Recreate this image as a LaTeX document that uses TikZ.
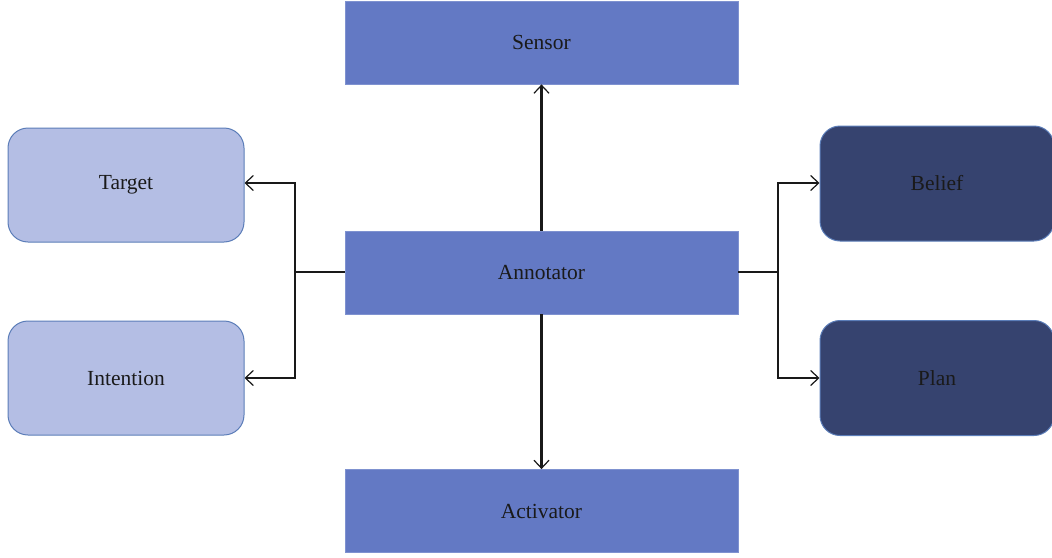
\documentclass[tikz,border=0pt]{standalone}
\usepackage{fontspec}
\setmainfont{Liberation Serif}
\usetikzlibrary{arrows.meta}
\definecolor{midblue}{HTML}{6379C4}
\definecolor{midedge}{HTML}{7F92D0}
\definecolor{lightblue}{HTML}{B4BEE4}
\definecolor{lightedge}{HTML}{5B7DB8}
\definecolor{darkblue}{HTML}{36436F}
\definecolor{darkedge}{HTML}{5B7DB8}
\definecolor{txt}{HTML}{1A1A1A}
\tikzset{
  x=1pt,y=-1pt,
  lbl/.style={font=\fontsize{21.5}{25}\selectfont, text=txt},
  sqbox/.style={lbl, draw=midedge, fill=midblue, line width=0.8pt, minimum width=393pt, minimum height=83pt, inner sep=0pt},
  lightbox/.style={lbl, draw=lightedge, fill=lightblue, line width=1pt, rounded corners=20pt, minimum width=236pt, minimum height=114pt, inner sep=0pt},
  darkbox/.style={lbl, draw=darkedge, fill=darkblue, line width=1pt, rounded corners=20pt, minimum width=234pt, minimum height=115pt, inner sep=0pt},
  conn/.style={draw=black!90, line width=1.6pt},
  arr/.style={conn, -{Straight Barb[length=8pt, width=15pt, line width=1.2pt]}},
  varr/.style={arr, line width=2.1pt},
}
\begin{document}
\begin{tikzpicture}
\useasboundingbox (0,0) rectangle (1052,557);
\node[sqbox] (sensor) at (541.5,42.5) {Sensor};
\node[sqbox] (annot) at (541.5,272.5) {Annotator};
\node[sqbox] (activ) at (541.5,511) {Activator};
\node[lightbox] (target) at (126,185) {Target};
\node[lightbox] (intent) at (126,378) {Intention};
\node[darkbox] (belief) at (937,183.5) {Belief};
\node[darkbox] (plan) at (937,378) {Plan};
\coordinate (lj) at (295,272);
\coordinate (rj) at (778,272);
\draw[conn] (annot.west |- lj) -- (lj);
\draw[arr] (lj) |- (target.east |- 0,183);
\draw[arr] (lj) |- (intent.east |- 0,378);
\draw[conn] (annot.east |- rj) -- (rj);
\draw[arr] (rj) |- (belief.west |- 0,183);
\draw[arr] (rj) |- (plan.west |- 0,378);
\draw[varr] (annot.north) -- (sensor.south);
\draw[varr] (annot.south) -- (activ.north);
\end{tikzpicture}
\end{document}
